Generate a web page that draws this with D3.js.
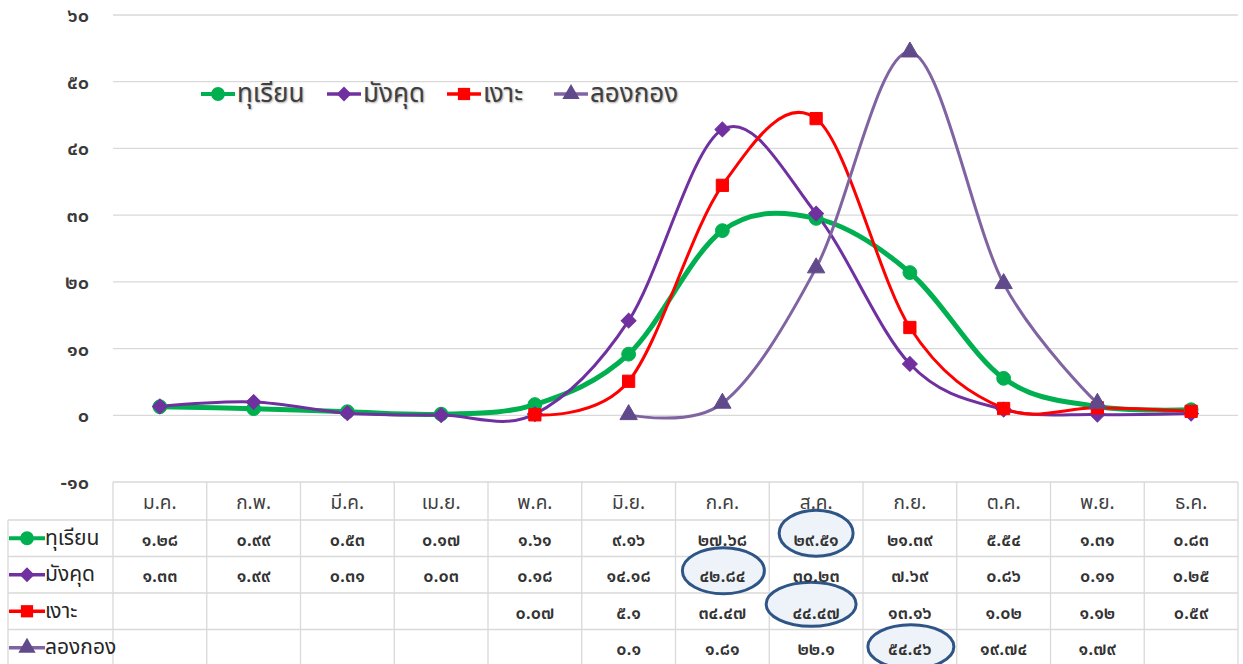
<!DOCTYPE html>
<html><head><meta charset="utf-8">
<script src="https://cdn.jsdelivr.net/npm/d3@7"></script>
<style>
body{margin:0;background:#fff;}
svg{display:block;font-family:"Noto Sans Thai","Tahoma","Noto Sans",sans-serif;}
.leg{text-shadow:1px 1px 2px rgba(0,0,0,0.35);}
</style></head><body>
<svg id="c" width="1243" height="664"></svg>
<script>
const months = ["ม.ค.","ก.พ.","มี.ค.","เม.ย.","พ.ค.","มิ.ย.","ก.ค.","ส.ค.","ก.ย.","ต.ค.","พ.ย.","ธ.ค."];
const seriesNames = ["ทุเรียน","มังคุด","เงาะ","ลองกอง"];
const durian     = [1.28,0.99,0.53,0.17,1.61,9.16,27.68,29.51,21.39,5.54,1.31,0.83];
const mangosteen = [1.33,1.99,0.31,0.03,0.18,14.18,42.84,30.23,7.69,0.86,0.11,0.25];
const rambutan   = [null,null,null,null,0.07,5.1,34.47,44.47,13.16,1.02,1.12,0.59];
const longkong   = [null,null,null,null,null,0.1,1.81,22.1,54.46,19.74,1.79,null];
const yTicks = [-10,0,10,20,30,40,50,60];
const highlights = [[0,7],[1,6],[2,7],[3,8]]; // [series index, month index] of circled cells

const seriesData = [durian, mangosteen, rambutan, longkong];
const styles = [
  {color:"#00B050", fill:"#00B050", width:5, marker:"circle", size:150, rot:0},
  {color:"#7030A0", fill:"#7030A0", width:3, marker:"square", size:110, rot:45},
  {color:"#FF0000", fill:"#FF0000", width:3, marker:"square", size:150, rot:0},
  {color:"#8064A2", fill:"#604A8B", width:3, marker:"triangle", size:130, rot:0}
];
const symType = {circle:d3.symbolCircle, square:d3.symbolSquare, triangle:d3.symbolTriangle};
const thai = s => String(s).replace(/[0-9]/g, d => "๐๑๒๓๔๕๖๗๘๙"[+d]);

const svg = d3.select("#c");
const pLeft = 113, pRight = 1238, pTop = 15, pBottom = 482;
const x = d3.scaleBand().domain(months).range([pLeft, pRight]);
const y = d3.scaleLinear().domain([-10, 60]).range([pBottom, pTop]);

// gridlines
svg.append("g").selectAll("line").data(yTicks.filter(t=>t!==-10)).join("line")
  .attr("x1", pLeft).attr("x2", pRight)
  .attr("y1", d=>y(d)).attr("y2", d=>y(d))
  .attr("stroke", "#d9d9d9").attr("stroke-width", 1.3);

// y axis labels
svg.append("g").selectAll("text").data(yTicks).join("text")
  .attr("x", 89).attr("y", d=>y(d)).attr("dy", "0.35em")
  .attr("text-anchor","end").attr("font-size", 20).attr("font-weight",600).attr("fill","#3a3a3a")
  .text(d=>thai(d));

// lines
const line = d3.line()
  .defined(d=>d.v!==null)
  .x(d=>x(d.m)+x.bandwidth()/2).y(d=>y(d.v))
  .curve(d3.curveCardinal.tension(0));

seriesData.forEach((arr,i)=>{
  const pts = arr.map((v,j)=>({m:months[j], v}));
  const st = styles[i];
  svg.append("path").datum(pts).attr("d", line)
    .attr("fill","none").attr("stroke", st.color).attr("stroke-width", st.width)
    .attr("stroke-linejoin","round");
});
seriesData.forEach((arr,i)=>{
  const pts = arr.map((v,j)=>({m:months[j], v})).filter(d=>d.v!==null);
  const st = styles[i];
  svg.append("g").selectAll("path").data(pts).join("path")
    .attr("transform", d=>`translate(${x(d.m)+x.bandwidth()/2},${y(d.v)}) rotate(${st.rot})`)
    .attr("d", d3.symbol().type(symType[st.marker]).size(st.size))
    .attr("fill", st.fill).attr("stroke", st.fill).attr("stroke-width",1);
});

// legend
function key(g, i, cx, cy, len){
  const st = styles[i];
  g.append("line").attr("x1", cx-len/2).attr("x2", cx+len/2).attr("y1", cy).attr("y2", cy)
    .attr("stroke", st.color).attr("stroke-width", st.width===5?4:3.5);
  g.append("path").attr("transform", `translate(${cx},${cy}) rotate(${st.rot})`)
    .attr("d", d3.symbol().type(symType[st.marker]).size(st.size))
    .attr("fill", st.fill);
}
const legX = [218, 344, 464, 571];
const lg = svg.append("g");
seriesNames.forEach((n,i)=>{
  key(lg, i, legX[i], 94, 34);
  lg.append("text").attr("class","leg").attr("x", legX[i]+19).attr("y", 93).attr("dy","0.35em")
    .attr("font-size", 26).attr("fill","#404040").text(n);
});

// data table
const rowTop = 520, rowH = 36.5;
const rows = seriesNames.map((n,i)=>i);
const tg = svg.append("g");
const bc = "#d9d9d9";
tg.append("line").attr("x1", pLeft).attr("x2", pRight).attr("y1", pBottom).attr("y2", pBottom).attr("stroke", bc).attr("stroke-width",1.3);
rows.concat([4]).forEach(r=>{
  tg.append("line").attr("x1", 8).attr("x2", pRight).attr("y1", rowTop + r*rowH).attr("y2", rowTop + r*rowH)
    .attr("stroke", bc).attr("stroke-width",1.3);
});
tg.append("line").attr("x1", 8).attr("x2", 8).attr("y1", rowTop).attr("y2", 664).attr("stroke", bc).attr("stroke-width",1.3);
months.concat([null]).forEach((m,j)=>{
  const xx = m===null ? pRight : x(m);
  tg.append("line").attr("x1", xx).attr("x2", xx).attr("y1", pBottom).attr("y2", 664).attr("stroke", bc).attr("stroke-width",1.3);
});
tg.selectAll("text.mh").data(months).join("text").attr("class","mh")
  .attr("x", d=>x(d)+x.bandwidth()/2).attr("y", (pBottom+rowTop)/2+1).attr("dy","0.35em")
  .attr("text-anchor","middle").attr("font-size",19).attr("fill","#404040").text(d=>d);

// highlight ellipses
const ellOff = [[0,-5,37,23],[1,-4,41,23],[-5,-7,45,22],[1,-1,43,22]];
highlights.forEach((h,k)=>{
  const [si, mi] = h;
  const cx = x(months[mi]) + x.bandwidth()/2 + ellOff[k][0];
  const cy = rowTop + si*rowH + rowH/2 + ellOff[k][1];
  tg.append("ellipse").attr("cx", cx).attr("cy", cy).attr("rx", ellOff[k][2]).attr("ry", ellOff[k][3])
    .attr("fill","#eef3f9").attr("stroke","#2e5586").attr("stroke-width",3);
});

rows.forEach(r=>{
  const cy = rowTop + r*rowH + rowH/2;
  key(tg, r, 27, cy, 36);
  tg.append("text").attr("x", 45).attr("y", cy-1).attr("dy","0.35em")
    .attr("font-size",21).attr("fill","#262626").text(seriesNames[r]);
  tg.append("g").selectAll("text").data(seriesData[r].map((v,j)=>({v,m:months[j]})).filter(d=>d.v!==null)).join("text")
    .attr("x", d=>x(d.m)+x.bandwidth()/2).attr("y", cy+1).attr("dy","0.35em")
    .attr("text-anchor","middle").attr("font-size",18).attr("font-weight",600).attr("fill","#333")
    .text(d=>thai(d.v));
});
</script></body></html>
